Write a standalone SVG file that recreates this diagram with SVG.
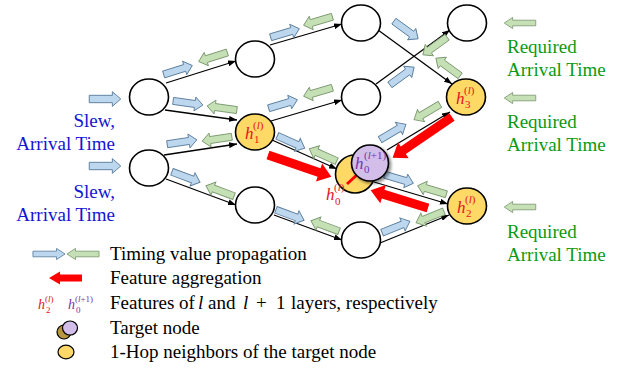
<svg xmlns="http://www.w3.org/2000/svg" xmlns:xlink="http://www.w3.org/1999/xlink" width="624" height="371" viewBox="0 0 624 371">
  <defs>
    <style>
      .t { font-family: 'Liberation Serif', 'Times New Roman', serif; font-size: 19px; }
      .blue { fill: #1414d2; }
      .green { fill: #0b9a12; }
      .m { font-family: 'Liberation Serif', 'Times New Roman', serif; font-style: italic; }
      .up { font-style: normal; }
      .red { fill: #e3141c; }
      .pur { fill: #7a34a8; }
      .node { fill: #ffffff; stroke: #000000; stroke-width: 1.6; }
      .hop { fill: #ffd966; stroke: #000000; stroke-width: 1.6; }
      .tgt { fill: #d3bde9; stroke: #000000; stroke-width: 1.6; }
      .edge { stroke: #000000; stroke-width: 1.3; fill: none; marker-end: url(#ah); }
      .fw { fill: #bdd7ee; stroke: #5a7d9c; stroke-width: 0.9; }
      .bw { fill: #c5e0b4; stroke: #7c9870; stroke-width: 0.9; }
      .agg { fill: #ff0000; }
    </style>
    <marker id="ah" viewBox="0 0 8 6" refX="8" refY="3" markerWidth="8" markerHeight="6" orient="auto" markerUnits="userSpaceOnUse">
      <path d="M0,0L8,3L0,6Z" fill="#000000"/>
    </marker>
    <!-- block arrow pointing right, centred on the origin -->
    <path id="ba" d="M-15,-3.5H7V-7L15,0L7,7V3.5H-15Z"/>
    <filter id="sh" x="-30%" y="-30%" width="160%" height="160%">
      <feDropShadow dx="2" dy="2" stdDeviation="1.5" flood-color="#000000" flood-opacity="0.45"/>
    </filter>
  </defs>

  <rect width="624" height="371" fill="#ffffff"/>

  <!-- timing graph edges -->
  <g id="connectors">
    <line class="edge" x1="166" y1="83" x2="236" y2="61"/>
    <line class="edge" x1="165" y1="110" x2="237" y2="120"/>
    <line class="edge" x1="164" y1="155" x2="237" y2="144"/>
    <line class="edge" x1="166" y1="179" x2="236" y2="205"/>
    <line class="edge" x1="270" y1="45" x2="342" y2="24"/>
    <line class="edge" x1="271" y1="121" x2="342" y2="100"/>
    <line class="edge" x1="272" y1="140" x2="337" y2="169"/>
    <line class="edge" x1="274" y1="215" x2="342" y2="240"/>
    <line class="edge" x1="378" y1="30" x2="452" y2="84"/>
    <line class="edge" x1="376" y1="84" x2="450" y2="30"/>
    <line class="edge" x1="387" y1="150" x2="450" y2="112"/>
    <line class="edge" x1="374" y1="182" x2="448" y2="204"/>
    <line class="edge" x1="380" y1="243" x2="449" y2="215"/>
  </g>

  <!-- forward (blue) and backward (green) timing propagation -->
  <g id="propagation">
    <use xlink:href="#ba" class="fw" transform="translate(105,99) scale(1.05)"/>
    <use xlink:href="#ba" class="fw" transform="translate(105,166) scale(1.05)"/>
    <use xlink:href="#ba" class="bw" transform="translate(520,23) rotate(180) scale(1.05,0.8)"/>
    <use xlink:href="#ba" class="bw" transform="translate(520,98) rotate(180) scale(1.05,0.8)"/>
    <use xlink:href="#ba" class="bw" transform="translate(520,207) rotate(180) scale(1.05,0.8)"/>

    <use xlink:href="#ba" class="fw" transform="translate(178,70) rotate(-17.4)"/>
    <use xlink:href="#ba" class="bw" transform="translate(213,57) rotate(162.6)"/>
    <use xlink:href="#ba" class="fw" transform="translate(188,103) rotate(8)"/>
    <use xlink:href="#ba" class="bw" transform="translate(222,108) rotate(188)"/>
    <use xlink:href="#ba" class="fw" transform="translate(182,142) rotate(-8.5)"/>
    <use xlink:href="#ba" class="bw" transform="translate(217,139) rotate(171.5)"/>
    <use xlink:href="#ba" class="fw" transform="translate(186,177) rotate(20.4)"/>
    <use xlink:href="#ba" class="bw" transform="translate(220,191) rotate(200.4)"/>

    <use xlink:href="#ba" class="fw" transform="translate(285,33) rotate(-16.5)"/>
    <use xlink:href="#ba" class="bw" transform="translate(318,21) rotate(163.5)"/>
    <use xlink:href="#ba" class="fw" transform="translate(283,104) rotate(-16.5)"/>
    <use xlink:href="#ba" class="bw" transform="translate(318,92) rotate(163.5)"/>
    <use xlink:href="#ba" class="fw" transform="translate(291,142) rotate(24)"/>
    <use xlink:href="#ba" class="bw" transform="translate(323,155) rotate(204)"/>
    <use xlink:href="#ba" class="fw" transform="translate(290,215) rotate(20.2)"/>
    <use xlink:href="#ba" class="bw" transform="translate(325,226) rotate(200.2)"/>

    <use xlink:href="#ba" class="fw" transform="translate(406,30) rotate(36)"/>
    <use xlink:href="#ba" class="bw" transform="translate(448,67) rotate(216)"/>
    <use xlink:href="#ba" class="fw" transform="translate(402,76) rotate(-36)"/>
    <use xlink:href="#ba" class="bw" transform="translate(435,46) rotate(144)"/>
    <use xlink:href="#ba" class="fw" transform="translate(393,132) rotate(-30.7)"/>
    <use xlink:href="#ba" class="bw" transform="translate(427,112) rotate(149.3)"/>
    <use xlink:href="#ba" class="fw" transform="translate(399,179) rotate(16.6)"/>
    <use xlink:href="#ba" class="bw" transform="translate(432,190) rotate(196.6)"/>
    <use xlink:href="#ba" class="fw" transform="translate(396,227) rotate(-22)"/>
    <use xlink:href="#ba" class="bw" transform="translate(430,217) rotate(158)"/>
  </g>

  <!-- graph nodes -->
  <g id="nA"><ellipse class="node" cx="149" cy="97" rx="19.5" ry="18"/></g>
  <g id="nB"><ellipse class="node" cx="149" cy="168" rx="19.5" ry="18"/></g>
  <g id="nC"><ellipse class="node" cx="255" cy="59" rx="19.5" ry="18"/></g>
  <g id="nD"><ellipse class="node" cx="255" cy="205" rx="19.5" ry="18"/></g>
  <g id="nE"><ellipse class="node" cx="361" cy="23" rx="19.5" ry="18"/></g>
  <g id="nF"><ellipse class="node" cx="361" cy="97" rx="19.5" ry="18"/></g>
  <g id="nG"><ellipse class="node" cx="361" cy="240" rx="19.5" ry="18"/></g>
  <g id="nH"><ellipse class="node" cx="467" cy="23" rx="19.5" ry="18"/></g>

  <g id="h1">
    <ellipse class="hop" cx="255" cy="132" rx="19.5" ry="18"/>
    <text class="m red" font-size="17" x="245" y="139">h</text>
    <text class="m red" font-size="11" x="253" y="129"><tspan class="up">(</tspan>l<tspan class="up">)</tspan></text>
    <text class="m red up" font-size="11" x="254" y="143">1</text>
  </g>
  <g id="h3">
    <ellipse class="hop" cx="466" cy="97" rx="19.5" ry="18"/>
    <text class="m red" font-size="17" x="456" y="104">h</text>
    <text class="m red" font-size="11" x="464" y="94"><tspan class="up">(</tspan>l<tspan class="up">)</tspan></text>
    <text class="m red up" font-size="11" x="465" y="108">3</text>
  </g>
  <g id="h2">
    <ellipse class="hop" cx="467" cy="206" rx="19.5" ry="18"/>
    <text class="m red" font-size="17" x="457" y="213">h</text>
    <text class="m red" font-size="11" x="465" y="203"><tspan class="up">(</tspan>l<tspan class="up">)</tspan></text>
    <text class="m red up" font-size="11" x="466" y="217">2</text>
  </g>

  <!-- target node: layer-l state behind, layer-(l+1) state in front -->
  <g id="h0">
    <ellipse class="hop" cx="355" cy="174" rx="19.5" ry="19"/>
    <line x1="347" y1="184" x2="359" y2="173" stroke="#ff0000" stroke-width="3"/>
    <ellipse class="tgt" cx="370" cy="163" rx="18.5" ry="18" filter="url(#sh)"/>
    <text class="m pur" font-size="17" x="355" y="169">h</text>
    <text class="m pur" font-size="11" x="364" y="159"><tspan class="up">(</tspan>l<tspan class="up">+1)</tspan></text>
    <text class="m pur up" font-size="11" x="364" y="173">0</text>
    <text class="m red" font-size="17" x="326" y="200">h</text>
    <text class="m red" font-size="11" x="334" y="191"><tspan class="up">(</tspan>l<tspan class="up">)</tspan></text>
    <text class="m red up" font-size="11" x="335" y="205">0</text>
  </g>

  <!-- feature aggregation into the target node -->
  <g id="aggregation">
    <path class="agg" transform="translate(268,155) rotate(19)" d="M0,-4.5H54V-9.5L67,0L54,9.5V4.5H0Z"/>
    <path class="agg" transform="translate(452,117) rotate(145.6)" d="M0,-4.5H59V-9.5L72,0L59,9.5V4.5H0Z"/>
    <path class="agg" transform="translate(428,208) rotate(197.2)" d="M0,-4.5H47V-9.5L60,0L47,9.5V4.5H0Z"/>
  </g>

  <!-- input / output annotations -->
  <g id="inputs">
    <text class="t blue" text-anchor="end" x="115" y="127">Slew,</text>
    <text class="t blue" text-anchor="end" x="115" y="150">Arrival Time</text>
    <text class="t blue" text-anchor="end" x="115" y="198">Slew,</text>
    <text class="t blue" text-anchor="end" x="115" y="221">Arrival Time</text>
  </g>
  <g id="outputs">
    <text class="t green" x="507" y="53">Required</text>
    <text class="t green" x="507" y="76">Arrival Time</text>
    <text class="t green" x="507" y="128">Required</text>
    <text class="t green" x="507" y="151">Arrival Time</text>
    <text class="t green" x="507" y="238">Required</text>
    <text class="t green" x="507" y="261">Arrival Time</text>
  </g>

  <!-- legend -->
  <g id="legend">
    <use xlink:href="#ba" class="fw" transform="translate(49,254) scale(1.07,0.8)"/>
    <use xlink:href="#ba" class="bw" transform="translate(83,254) rotate(180) scale(1.07,0.8)"/>
    <text class="t" x="110" y="260">Timing value propagation</text>

    <path class="agg" transform="translate(82,278) rotate(180)" d="M0,-3.5H22V-6.5L33,0L22,6.5V3.5H0Z"/>
    <text class="t" x="110" y="284">Feature aggregation</text>

    <text class="m red" font-size="14" x="38" y="309">h</text>
    <text class="m red" font-size="9" x="45" y="302"><tspan class="up">(</tspan>l<tspan class="up">)</tspan></text>
    <text class="m red up" font-size="9" x="46" y="313">2</text>
    <text class="m pur" font-size="14" x="68" y="309">h</text>
    <text class="m pur" font-size="9" x="75" y="302"><tspan class="up">(</tspan>l<tspan class="up">+1)</tspan></text>
    <text class="m pur up" font-size="9" x="76" y="313">0</text>
    <text class="t" y="309"><tspan x="110">Features of</tspan><tspan x="198" font-style="italic">l</tspan><tspan x="208">and</tspan><tspan x="243" font-style="italic">l</tspan><tspan x="256">+</tspan><tspan x="276">1</tspan><tspan x="291">layers, respectively</tspan></text>

    <ellipse cx="64" cy="332" rx="7" ry="7" fill="#b8963e" stroke="#000000" stroke-width="1.2"/>
    <ellipse cx="70" cy="328" rx="7.5" ry="7" fill="#d3bde9" stroke="#000000" stroke-width="1.2"/>
    <text class="t" x="110" y="334">Target node</text>

    <ellipse cx="66" cy="352" rx="8" ry="6.8" fill="#ffd966" stroke="#000000" stroke-width="1.2"/>
    <text class="t" x="110" y="358">1-Hop neighbors of the target node</text>
  </g>
</svg>
